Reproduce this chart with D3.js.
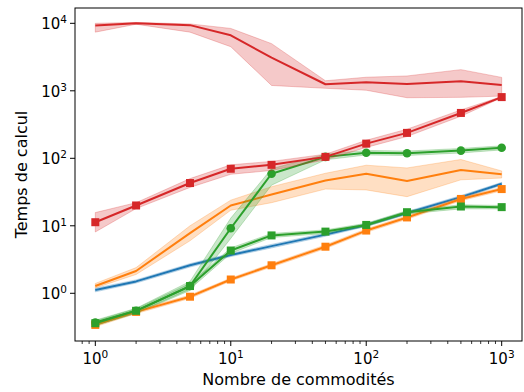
<!DOCTYPE html>
<html>
<head>
<meta charset="utf-8">
<script src="https://cdn.jsdelivr.net/npm/d3@7"></script>
<style>
  body { margin: 0; background: #fff; }
  text { font-family: "DejaVu Sans", sans-serif; fill: #000; }
</style>
</head>
<body>
<div id="chart"></div>
<script>
const W = 524, H = 392;
const M = { left: 75, top: 8, right: 2, bottom: 51 };

const commodities = [1, 2, 5, 10, 20, 50, 100, 200, 500, 1000];

// series: mean + band (lo/hi)
const blueLine = [1.12, 1.5, 2.6, 3.7, 5.0, 7.4, 10.3, 15.5, 26.6, 42];
const blueLo   = [1.05, 1.42, 2.45, 3.5, 4.7, 7.0, 9.8, 14.7, 25.2, 40];
const blueHi   = [1.19, 1.58, 2.75, 3.9, 5.3, 7.8, 10.8, 16.3, 28, 44];

const orangeLine = [1.28, 2.14, 7.8, 20, 29, 47, 59, 46, 67, 58];
const orangeLo   = [1.2, 1.9, 6.0, 17, 22, 35, 34, 27, 48, 51];
const orangeHi   = [1.4, 2.4, 10, 24, 38, 60, 79, 72, 96, 65];

const greenCircle   = [0.37, 0.55, 1.28, 9.2, 59, 105, 121, 119, 130, 143];
const greenCircleLo = [0.34, 0.5, 1.1, 6.5, 40, 95, 112, 110, 120, 133];
const greenCircleHi = [0.4, 0.6, 1.5, 13, 70, 115, 131, 128, 140, 153];

const redLine = [9300, 10000, 9400, 6650, 3100, 1250, 1340, 1260, 1390, 1220];
const redLo   = [7400, 9700, 7400, 4500, 1200, 1090, 1020, 790, 800, 835];
const redHi   = [10000, 10300, 9800, 8400, 5000, 1410, 1590, 1660, 2060, 1580];

const orangeSquare   = [0.34, 0.53, 0.89, 1.6, 2.6, 4.9, 8.5, 13.3, 25, 35];
const orangeSquareLo = [0.32, 0.5, 0.84, 1.52, 2.45, 4.6, 8.0, 12.5, 23.5, 33];
const orangeSquareHi = [0.36, 0.56, 0.94, 1.68, 2.75, 5.2, 9.0, 14.1, 26.5, 37];

const greenSquare   = [0.36, 0.55, 1.28, 4.3, 7.2, 8.2, 10.3, 15.9, 19.3, 18.9];
const greenSquareLo = [0.33, 0.51, 1.15, 3.9, 6.7, 7.7, 9.7, 15.0, 17.8, 17.8];
const greenSquareHi = [0.39, 0.59, 1.4, 4.7, 7.7, 8.7, 10.9, 16.8, 20.5, 20];

const redSquare   = [11.3, 20, 43, 70, 80, 105, 165, 238, 470, 807];
const redSquareLo = [8.1, 18, 37, 58, 66, 95, 145, 210, 420, 790];
const redSquareHi = [15.7, 22, 50, 80, 90, 115, 185, 270, 520, 825];

const xTicks = [1, 10, 100, 1000];
const yTicks = [1, 10, 100, 1000, 10000];

const C0 = '#1f77b4', C1 = '#ff7f0e', C2 = '#2ca02c', C3 = '#d62728';

const series = [
  { y: blueLine, lo: blueLo, hi: blueHi, color: C0, marker: null },
  { y: orangeLine, lo: orangeLo, hi: orangeHi, color: C1, marker: null },
  { y: greenCircle, lo: greenCircleLo, hi: greenCircleHi, color: C2, marker: 'circle' },
  { y: redLine, lo: redLo, hi: redHi, color: C3, marker: null },
  { y: orangeSquare, lo: orangeSquareLo, hi: orangeSquareHi, color: C1, marker: 'square' },
  { y: greenSquare, lo: greenSquareLo, hi: greenSquareHi, color: C2, marker: 'square' },
  { y: redSquare, lo: redSquareLo, hi: redSquareHi, color: C3, marker: 'square' }
];

const svg = d3.select('#chart').append('svg')
  .attr('width', W)
  .attr('height', H);

const iw = W - M.left - M.right, ih = H - M.top - M.bottom;

const x = d3.scaleLog()
  .domain([Math.pow(10, -0.15), Math.pow(10, 3.15)])
  .range([0, iw]);

const y = d3.scaleLog()
  .domain([Math.pow(10, -0.707), Math.pow(10, 4.227)])
  .range([ih, 0]);

const g = svg.append('g')
  .attr('transform', 'translate(' + M.left + ',' + M.top + ')');

g.append('clipPath').attr('id', 'clip')
  .append('rect').attr('width', iw).attr('height', ih);

const plot = g.append('g').attr('clip-path', 'url(#clip)');

const area = d3.area()
  .x((d) => x(d.x))
  .y0((d) => y(d.lo))
  .y1((d) => y(d.hi));

const line = d3.line()
  .x((d) => x(d.x))
  .y((d) => y(d.y));

series.forEach((s) => {
  const pts = commodities.map((c, i) => ({ x: c, y: s.y[i], lo: s.lo[i], hi: s.hi[i] }));

  plot.append('path')
    .attr('d', area(pts))
    .attr('fill', s.color)
    .attr('fill-opacity', 0.25)
    .attr('stroke', s.color)
    .attr('stroke-opacity', 0.25)
    .attr('stroke-width', 1);

  plot.append('path')
    .attr('d', line(pts))
    .attr('fill', 'none')
    .attr('stroke', s.color)
    .attr('stroke-width', 2)
    .attr('stroke-linejoin', 'round');

  if (s.marker === 'square') {
    plot.selectAll(null).data(pts).enter()
      .append('rect')
      .attr('x', (d) => x(d.x) - 4)
      .attr('y', (d) => y(d.y) - 4)
      .attr('width', 8)
      .attr('height', 8)
      .attr('fill', s.color);
  } else if (s.marker === 'circle') {
    plot.selectAll(null).data(pts).enter()
      .append('circle')
      .attr('cx', (d) => x(d.x))
      .attr('cy', (d) => y(d.y))
      .attr('r', 4.3)
      .attr('fill', s.color);
  }
});

// axes
const xAxis = g.append('g')
  .attr('transform', 'translate(0,' + ih + ')');

const minor = [];
[0.1, 1, 10, 100, 1000].forEach((dec) => {
  for (let k = 2; k <= 9; k++) {
    const v = dec * k;
    if (v >= x.domain()[0] && v <= x.domain()[1]) minor.push(v);
  }
});

xAxis.selectAll('.minor').data(minor).enter()
  .append('line')
  .attr('x1', (d) => x(d)).attr('x2', (d) => x(d))
  .attr('y1', 0).attr('y2', 3)
  .attr('stroke', '#000').attr('stroke-width', 0.8);

const xt = xAxis.selectAll('.major').data(xTicks).enter()
  .append('g')
  .attr('transform', (d) => 'translate(' + x(d) + ',0)');

xt.append('line').attr('y2', 5).attr('stroke', '#000').attr('stroke-width', 1);

const xl = xt.append('text')
  .attr('y', 23)
  .attr('text-anchor', 'middle')
  .style('font-size', '15px');
xl.append('tspan').text('10');
xl.append('tspan')
  .attr('dy', -6)
  .style('font-size', '10.5px')
  .text((d) => Math.round(Math.log10(d)));

const yt = g.append('g').selectAll('.major').data(yTicks).enter()
  .append('g')
  .attr('transform', (d) => 'translate(0,' + y(d) + ')');

yt.append('line').attr('x2', -5).attr('stroke', '#000').attr('stroke-width', 1);

const yl = yt.append('text')
  .attr('x', -8)
  .attr('y', 6)
  .attr('text-anchor', 'end')
  .style('font-size', '15px');
yl.append('tspan').text('10');
yl.append('tspan')
  .attr('dy', -6)
  .style('font-size', '10.5px')
  .text((d) => Math.round(Math.log10(d)));

// frame
g.append('rect')
  .attr('width', iw)
  .attr('height', ih)
  .attr('fill', 'none')
  .attr('stroke', '#000')
  .attr('stroke-width', 1);

svg.append('text')
  .attr('x', M.left + iw / 2)
  .attr('y', 385)
  .attr('text-anchor', 'middle')
  .style('font-size', '16px')
  .text('Nombre de commodités');

svg.append('text')
  .attr('transform', 'translate(27,' + (M.top + ih / 2) + ') rotate(-90)')
  .attr('text-anchor', 'middle')
  .style('font-size', '16px')
  .text('Temps de calcul');
</script>
</body>
</html>
